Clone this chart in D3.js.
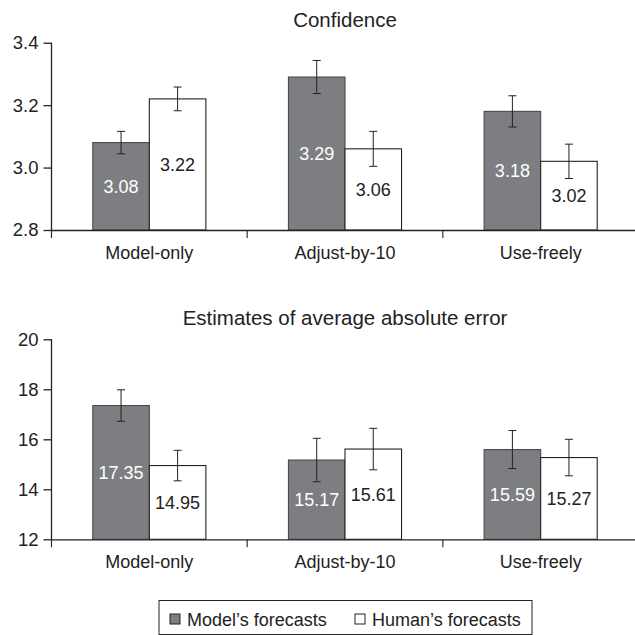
<!DOCTYPE html>
<html lang="en">
<head>
  <meta charset="UTF-8">
  <title>Confidence and error estimates</title>
  <script src="https://cdn.jsdelivr.net/npm/d3@7"></script>
  <style>
    body { margin: 0; background: #fff; }
    svg { display: block; font-family: "Liberation Sans", Arial, Helvetica, sans-serif; }
  </style>
</head>
<body>
  <script>
    // data
    const categories = ["Model-only", "Adjust-by-10", "Use-freely"];
    const series = ["Model's forecasts", "Human's forecasts"];

    const confModel = [3.08, 3.29, 3.18];
    const confHuman = [3.22, 3.06, 3.02];
    const confModelErr = [0.036, 0.053, 0.05];
    const confHumanErr = [0.038, 0.056, 0.055];
    const confTicks = [2.8, 3.0, 3.2, 3.4];

    const errModel = [17.35, 15.17, 15.59];
    const errHuman = [14.95, 15.61, 15.27];
    const errModelErr = [0.63, 0.87, 0.76];
    const errHumanErr = [0.61, 0.83, 0.73];
    const errTicks = [12, 14, 16, 18, 20];

    const W = 635, H = 635;
    const fills = ["#7d7e82", "#ffffff"];
    const strokes = ["#4a4a4a", "#222"];
    const labelColors = ["#ffffff", "#222"];

    const svg = d3.select("body").append("svg")
      .attr("width", W)
      .attr("height", H);

    const x0 = d3.scaleBand().domain(categories).range([51.5, 638.5]);
    const x1 = d3.scaleBand().domain(series).range([0, x0.bandwidth()])
      .paddingInner(0).paddingOuter(0.73);

    function panel(opts) {
      const y = d3.scaleLinear().domain(opts.domain).range([opts.bottom, opts.top]);
      const g = svg.append("g");

      // title
      g.append("text")
        .attr("x", (x0.range()[0] + x0.range()[1]) / 2)
        .attr("y", opts.titleY)
        .attr("text-anchor", "middle")
        .attr("font-size", "20.5px")
        .attr("fill", "#222")
        .text(opts.title);

      // y axis
      const yAxis = g.append("g")
        .attr("transform", `translate(${x0.range()[0]},0)`)
        .call(d3.axisLeft(y).tickValues(opts.ticks).tickFormat(opts.fmt)
          .tickSize(8).tickSizeOuter(0).tickPadding(5));
      yAxis.selectAll("text").attr("font-size", "18.5px").attr("fill", "#222");
      yAxis.selectAll("line, path").attr("stroke", "#222").attr("stroke-width", 1.3);
      yAxis.select(".domain").remove();
      yAxis.append("line")
        .attr("y1", y.range()[0]).attr("y2", y.range()[1])
        .attr("stroke", "#222").attr("stroke-width", 1.3);

      // rows: one per category
      const rows = categories.map((c, i) => ({
        cat: c,
        vals: [
          { s: series[0], v: opts.model[i], e: opts.modelErr[i], k: 0 },
          { s: series[1], v: opts.human[i], e: opts.humanErr[i], k: 1 }
        ]
      }));

      const groups = g.selectAll(".grp").data(rows).enter().append("g")
        .attr("class", "grp")
        .attr("transform", d => `translate(${x0(d.cat)},0)`);

      groups.selectAll("rect").data(d => d.vals).enter().append("rect")
        .attr("x", d => x1(d.s))
        .attr("width", x1.bandwidth())
        .attr("y", d => y(d.v))
        .attr("height", d => y(opts.domain[0]) - y(d.v))
        .attr("fill", d => fills[d.k])
        .attr("stroke", d => strokes[d.k])
        .attr("stroke-width", 1.1);

      // error bars
      const eb = groups.selectAll(".eb").data(d => d.vals).enter().append("g")
        .attr("class", "eb")
        .attr("stroke", "#222").attr("stroke-width", 1);
      eb.append("line")
        .attr("x1", d => x1(d.s) + x1.bandwidth() / 2)
        .attr("x2", d => x1(d.s) + x1.bandwidth() / 2)
        .attr("y1", d => y(d.v + d.e)).attr("y2", d => y(d.v - d.e));
      eb.append("line")
        .attr("x1", d => x1(d.s) + x1.bandwidth() / 2 - 4)
        .attr("x2", d => x1(d.s) + x1.bandwidth() / 2 + 4)
        .attr("y1", d => y(d.v + d.e)).attr("y2", d => y(d.v + d.e));
      eb.append("line")
        .attr("x1", d => x1(d.s) + x1.bandwidth() / 2 - 4)
        .attr("x2", d => x1(d.s) + x1.bandwidth() / 2 + 4)
        .attr("y1", d => y(d.v - d.e)).attr("y2", d => y(d.v - d.e));

      // value labels in the middle of each bar
      groups.selectAll(".val").data(d => d.vals).enter().append("text")
        .attr("class", "val")
        .attr("x", d => x1(d.s) + x1.bandwidth() / 2)
        .attr("y", d => (y(d.v) + y(opts.domain[0])) / 2)
        .attr("dy", "0.36em")
        .attr("text-anchor", "middle")
        .attr("font-size", "18px")
        .attr("fill", d => labelColors[d.k])
        .text(d => opts.valFmt(d.v));

      // x axis
      const xAxis = g.append("g")
        .attr("transform", `translate(0,${opts.bottom})`)
        .call(d3.axisBottom(x0).tickSize(0).tickPadding(16));
      xAxis.select(".domain").attr("stroke", "#222").attr("stroke-width", 1.3);
      xAxis.selectAll("text").attr("font-size", "18px").attr("fill", "#222");
      xAxis.selectAll(".bound").data(categories).enter().append("line")
        .attr("class", "bound")
        .attr("x1", d => x0(d)).attr("x2", d => x0(d))
        .attr("y1", 0).attr("y2", 8)
        .attr("stroke", "#222").attr("stroke-width", 1.1);
    }

    panel({
      title: "Confidence", titleY: 27,
      domain: [2.8, 3.4], top: 42.7, bottom: 230,
      ticks: confTicks, fmt: d3.format(".1f"), valFmt: d3.format(".2f"),
      model: confModel, human: confHuman, modelErr: confModelErr, humanErr: confHumanErr
    });

    panel({
      title: "Estimates of average absolute error", titleY: 325,
      domain: [12, 20], top: 339.3, bottom: 539.3,
      ticks: errTicks, fmt: d3.format("d"), valFmt: d3.format(".2f"),
      model: errModel, human: errHuman, modelErr: errModelErr, humanErr: errHumanErr
    });

    // legend
    const legend = svg.append("g");
    legend.append("rect")
      .attr("x", 159).attr("y", 600.5).attr("width", 373).attr("height", 34)
      .attr("fill", "none").attr("stroke", "#222").attr("stroke-width", 1);
    const legX = [170, 355];
    const items = legend.selectAll(".item").data(series).enter().append("g")
      .attr("class", "item")
      .attr("transform", (d, i) => `translate(${legX[i]},0)`);
    items.append("rect")
      .attr("x", 0).attr("y", 614).attr("width", 10).attr("height", 10)
      .attr("fill", (d, i) => fills[i])
      .attr("stroke", "#222").attr("stroke-width", 1);
    items.append("text")
      .attr("x", 17).attr("y", 626)
      .attr("font-size", "18px")
      .attr("fill", "#222")
      .text(d => d.replace("'", "\u2019"));
  </script>
</body>
</html>
